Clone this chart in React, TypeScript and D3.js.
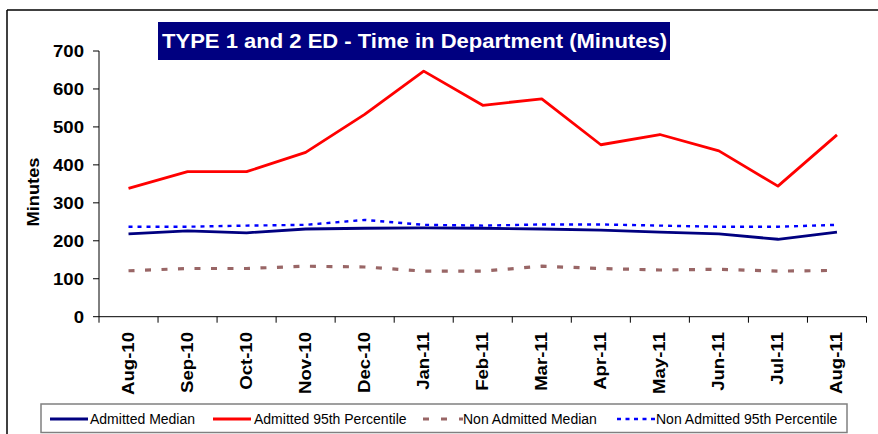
import React from "react";
import * as d3 from "d3";

const months = ["Aug-10","Sep-10","Oct-10","Nov-10","Dec-10","Jan-11","Feb-11","Mar-11","Apr-11","May-11","Jun-11","Jul-11","Aug-11"];
const admittedMedian = [218,226,221,231,233,234,233,231,228,223,218,204,223];
const admitted95 = [338,382,382,433,533,647,557,574,453,480,437,344,479];
const nonAdmittedMedian = [121,127,127,133,131,120,120,133,127,123,125,120,122];
const nonAdmitted95 = [237,237,240,242,255,242,240,243,243,240,237,237,242];
const yTicks = [0,100,200,300,400,500,600,700];
const title = "TYPE 1 and 2 ED - Time in Department (Minutes)";

const seriesNames = ["Admitted Median","Admitted 95th Percentile","Non Admitted Median","Non Admitted 95th Percentile"];
const seriesData = [admittedMedian, admitted95, nonAdmittedMedian, nonAdmitted95];

const FONT = "Arial, 'Liberation Sans', sans-serif";

export default function App() {
  const W = 878, H = 434;
  const x = d3.scaleBand<string>().domain(months).range([99, 866.5]).padding(0);
  const y = d3.scaleLinear().domain([0, 700]).range([316.7, 51]);
  const cx = (m: string) => (x(m) as number) + x.bandwidth() / 2;
  const line = d3.line<number>().x((_, i) => cx(months[i])).y(d => y(d));
  const SX = 1.14;

  const styles = [
    { stroke: "#000080", width: 2.8, dash: undefined },
    { stroke: "#ff0000", width: 2.8, dash: undefined },
    { stroke: "#996666", width: 3.2, dash: "6,10.5" },
    { stroke: "#0000ff", width: 2.4, dash: "4,5" },
  ];
  const legendItems = [
    { x0: 50, x1: 88, tx: 90 },
    { x0: 213, x1: 251, tx: 254 },
    { x0: 423, x1: 463, tx: 463 },
    { x0: 617, x1: 655, tx: 656 },
  ];
  const legendDash = [undefined, undefined, "6,12", "4,4.5"];

  return (
    <svg width={W} height={H} style={{ position: "absolute", left: 0, top: 0, background: "#fff" }} fontFamily={FONT}>
      <rect x={0} y={0} width={W} height={H} fill="#fff" />
      {/* outer frame */}
      <line x1={7} y1={10} x2={W} y2={10} stroke="#000" strokeWidth={1.5} />
      <line x1={7} y1={10} x2={7} y2={H} stroke="#000" strokeWidth={1.5} />

      {/* title */}
      <rect x={158} y={22} width={512} height={38} fill="#000080" />
      <text x={162} y={48} fill="#fff" fontSize={20.5} fontWeight="bold" textLength={505} lengthAdjust="spacingAndGlyphs">{title}</text>

      {/* y axis */}
      <line x1={99} y1={y(700)} x2={99} y2={y(0)} stroke="#000" strokeWidth={1} />
      {yTicks.map(t => (
        <g key={t}>
          <line x1={93} x2={99} y1={y(t)} y2={y(t)} stroke="#000" />
          <text transform={`translate(84,${y(t)}) scale(${SX},1)`} dy="0.36em" textAnchor="end" fontSize={16.3} fontWeight="bold">{t}</text>
        </g>
      ))}
      <text transform={`translate(38.5,192) rotate(-90) scale(${SX},1)`} textAnchor="middle" fontSize={16} fontWeight="bold">Minutes</text>

      {/* x axis */}
      <line x1={99} x2={866.5} y1={y(0)} y2={y(0)} stroke="#000" strokeWidth={1} />
      {months.map((m, i) => (
        <line key={"t" + i} x1={x(m) as number} x2={x(m) as number} y1={y(0)} y2={y(0) + 6} stroke="#000" />
      ))}
      <line x1={866.5} x2={866.5} y1={y(0)} y2={y(0) + 6} stroke="#000" />
      {months.map(m => (
        <text key={m} transform={`translate(${cx(m) + 5},332) rotate(-90) scale(${SX},1)`} textAnchor="end" fontSize={16.3} fontWeight="bold">{m}</text>
      ))}

      {/* series */}
      {seriesData.map((d, i) => (
        <path key={i} d={line(d) as string} fill="none" stroke={styles[i].stroke} strokeWidth={styles[i].width}
          strokeDasharray={styles[i].dash} strokeLinejoin="round" />
      ))}

      {/* legend */}
      <rect x={41} y={404} width={806} height={28.5} fill="#fff" stroke="#808080" strokeWidth={1.5} />
      {seriesNames.map((n, i) => (
        <g key={n}>
          <line x1={legendItems[i].x0} x2={legendItems[i].x1} y1={419} y2={419} stroke={styles[i].stroke}
            strokeWidth={styles[i].width} strokeDasharray={legendDash[i]} />
          <text x={legendItems[i].tx} y={424} fontSize={14}>{n}</text>
        </g>
      ))}
    </svg>
  );
}
